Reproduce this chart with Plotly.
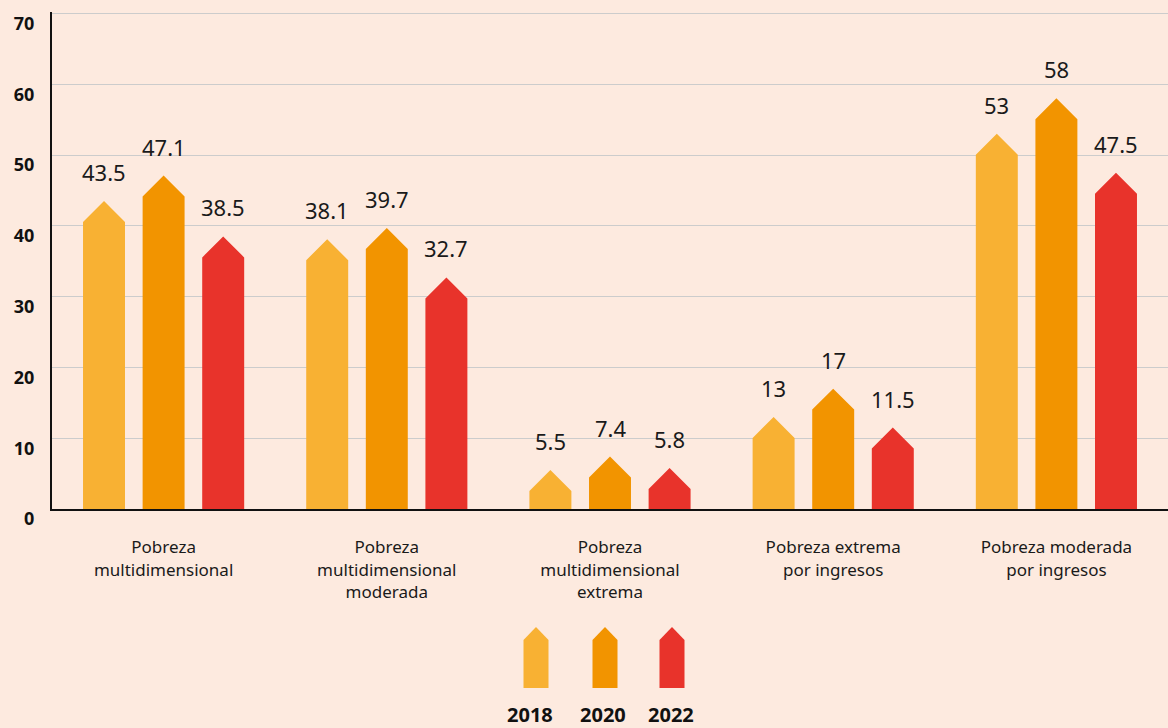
import plotly.graph_objects as go

# Data
categories = [
    'Pobreza<br>multidimensional',
    'Pobreza<br>multidimensional<br>moderada',
    'Pobreza<br>multidimensional<br>extrema',
    'Pobreza extrema<br>por ingresos',
    'Pobreza moderada<br>por ingresos',
]
years = ['2018', '2020', '2022']
values_2018 = [43.5, 38.1, 5.5, 13, 53]
values_2020 = [47.1, 39.7, 7.4, 17, 58]
values_2022 = [38.5, 32.7, 5.8, 11.5, 47.5]
y_ticks = [0, 10, 20, 30, 40, 50, 60, 70]

series = [values_2018, values_2020, values_2022]
colors = ['#F8B133', '#F29400', '#E8332B']
BG = '#FDEADF'
FONT = 'Noto Sans'

# Geometry of the arrow bars (in axis units)
BAR_W = 0.188
OFFSETS = [-0.267, 0.0, 0.267]
HEAD = 2.96

# Plot area in pixels (used for the custom legend)
L, T, W, H = 52, 12, 1168, 728
B = 219
PLOT_W = W - L
PLOT_H = H - T - B


def px_to_paper(px, py):
    return (px - L) / PLOT_W, (H - B - py) / PLOT_H


fig = go.Figure()

for vals, off, color, year in zip(series, OFFSETS, colors, years):
    xs, ys = [], []
    for i, v in enumerate(vals):
        c = i + off
        xs += [c - BAR_W / 2, c - BAR_W / 2, c, c + BAR_W / 2, c + BAR_W / 2, None]
        ys += [0, v - HEAD, v, v - HEAD, 0, None]
    fig.add_trace(go.Scatter(x=xs, y=ys, fill='toself', fillcolor=color,
                             mode='lines', line=dict(width=0), name=year,
                             hoverinfo='skip', showlegend=False))
    for i, v in enumerate(vals):
        fig.add_annotation(x=i + off, y=v, text=f'{v:g}', showarrow=False,
                           yanchor='bottom', yshift=12,
                           font=dict(family=FONT, size=22, color='#1a1a1a'))

# Custom legend: arrow icons plus bold years
legend_x = [536, 605, 672]
legend_label_x = [530, 603, 671]
for lx, tx, color, year in zip(legend_x, legend_label_x, colors, years):
    ax, ay = px_to_paper(lx, 688)
    fig.add_shape(type='path', xref='paper', yref='paper',
                  xsizemode='pixel', ysizemode='pixel',
                  xanchor=ax, yanchor=ay,
                  path='M -12.5 0 L -12.5 48 L 0 61 L 12.5 48 L 12.5 0 Z',
                  fillcolor=color, line=dict(width=0))
    tx_p, ty_p = px_to_paper(tx, 714)
    fig.add_annotation(x=tx_p, y=ty_p, xref='paper', yref='paper',
                       text=f'<b>{year}</b>', showarrow=False,
                       xanchor='center', yanchor='middle',
                       font=dict(family=FONT, size=20, color='#111111'))

fig.update_layout(
    width=W, height=H,
    margin=dict(l=L, r=0, t=T, b=B),
    paper_bgcolor=BG, plot_bgcolor=BG,
    showlegend=False,
    font=dict(family=FONT, color='#1a1a1a'),
)
fig.update_xaxes(
    range=[-0.5, 4.5],
    tickvals=list(range(len(categories))), ticktext=categories,
    tickfont=dict(family=FONT, size=17, color='#1a1a1a'),
    showgrid=False, zeroline=False,
    showline=True, linecolor='#111111', linewidth=2,
    ticks='', ticklabelstandoff=22,
)
fig.update_yaxes(
    range=[0, 70.2], tickvals=y_ticks,
    tickfont=dict(family=FONT, size=18, color='#111111', weight='bold'),
    showgrid=True, gridcolor='#CCCCCC', gridwidth=1,
    zeroline=False,
    showline=True, linecolor='#111111', linewidth=2,
    ticks='', ticklabelstandoff=12, ticklabelshift=10,
    ticklabeloverflow='allow',
)

fig.write_html('out.html', config={'displayModeBar': False},
               post_script="document.body.style.margin='0';")
